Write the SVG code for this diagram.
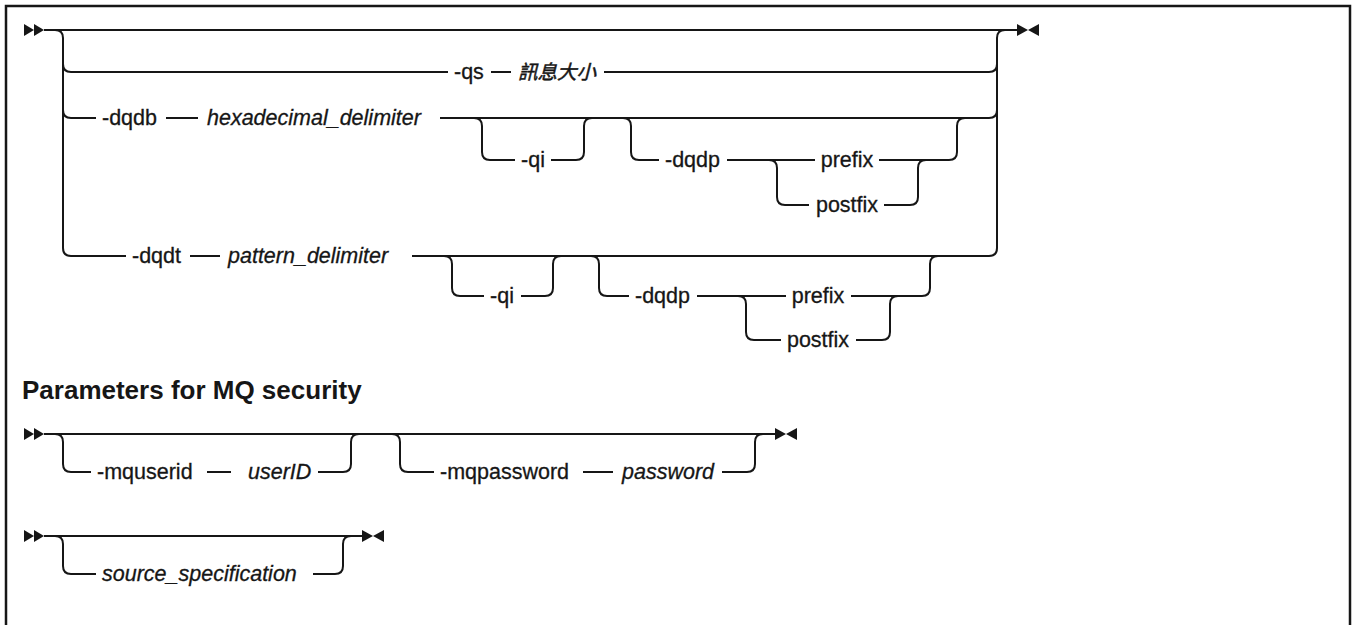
<svg xmlns="http://www.w3.org/2000/svg" xmlns:xlink="http://www.w3.org/1999/xlink" width="1354" height="625" viewBox="0 0 1354 625">
<style>
  text { font-family: "Liberation Sans", "Noto Sans CJK TC", sans-serif; font-size: 21.5px; fill: #161616; stroke: #161616; stroke-width: 0.3px; }
  .var { font-style: italic; }
  .cjk { font-family: "Noto Sans CJK TC", sans-serif; font-size: 19.5px; font-style: italic; stroke-width: 0.5px; }
  .head { font-weight: bold; font-size: 26px; stroke-width: 0; }
  .ln { fill: none; stroke: #161616; stroke-width: 2; }
  .frame { fill: none; stroke: #161616; stroke-width: 2.5; }
  .mk { fill: #161616; }
</style>
<defs>
  <g id="startMark"><polygon class="mk" points="0,-6 10,0 0,6"/><polygon class="mk" points="10,-6 20,0 10,6"/></g>
  <g id="endMark"><polygon class="mk" points="0,-6 11,0 0,6"/><polygon class="mk" points="22,-6 11,0 22,6"/></g>
</defs>
<rect width="1354" height="625" fill="#ffffff"/>
<path class="frame" d="M6 630 V6 H1350 V630"/>

<g id="connectors">
  <!-- diagram 1 -->
  <path class="ln" d="M44 30 H1017"/>
  <path class="ln" d="M55 30 Q63 30 63 38 V248 Q63 256 71 256"/>
  <path class="ln" d="M63 64 Q63 72 71 72"/>
  <path class="ln" d="M63 110 Q63 118 71 118"/>
  <path class="ln" d="M1005 30 Q997 30 997 38 V248 Q997 256 989 256"/>
  <path class="ln" d="M989 72 Q997 72 997 64"/>
  <path class="ln" d="M989 118 Q997 118 997 110"/>
  <path class="ln" d="M71 72 H448 M491 72 H511 M604 72 H989"/>
  <path class="ln" d="M71 118 H96 M166 118 H198 M440 118 H989"/>
  <path class="ln" d="M474 118 Q482 118 482 126 V152 Q482 160 490 160 H515 M551 160 H576 Q584 160 584 152 V126 Q584 118 592 118"/>
  <path class="ln" d="M623 118 Q631 118 631 126 V152 Q631 160 639 160 H659 M727 160 H815 M879 160 H949 Q957 160 957 152 V126 Q957 118 965 118"/>
  <path class="ln" d="M769 160 Q777 160 777 168 V197 Q777 205 785 205 H809 M884 205 H910 Q918 205 918 197 V168 Q918 160 926 160"/>
  <path class="ln" d="M71 256 H126 M190 256 H220 M412 256 H989"/>
  <path class="ln" d="M444 256 Q452 256 452 264 V288 Q452 296 460 296 H484 M521 296 H545 Q553 296 553 288 V264 Q553 256 561 256"/>
  <path class="ln" d="M591 256 Q599 256 599 264 V288 Q599 296 607 296 H629 M697 296 H786 M851 296 H922 Q930 296 930 288 V264 Q930 256 938 256"/>
  <path class="ln" d="M738 296 Q746 296 746 304 V332 Q746 340 754 340 H781 M856 340 H882 Q890 340 890 332 V304 Q890 296 898 296"/>
  <use xlink:href="#startMark" href="#startMark" x="24" y="30"/>
  <use xlink:href="#endMark" href="#endMark" x="1017" y="30"/>
  <!-- diagram 2 -->
  <path class="ln" d="M44 434 H775"/>
  <path class="ln" d="M55 434 Q63 434 63 442 V464 Q63 472 71 472 H91 M207 472 H231 M318 472 H343 Q351 472 351 464 V442 Q351 434 359 434"/>
  <path class="ln" d="M392 434 Q400 434 400 442 V464 Q400 472 408 472 H434 M583 472 H613 M722 472 H747 Q755 472 755 464 V442 Q755 434 763 434"/>
  <use xlink:href="#startMark" href="#startMark" x="24" y="434"/>
  <use xlink:href="#endMark" href="#endMark" x="775" y="434"/>
  <!-- diagram 3 -->
  <path class="ln" d="M44 536 H362"/>
  <path class="ln" d="M55 536 Q63 536 63 544 V566 Q63 574 71 574 H96 M313 574 H335 Q343 574 343 566 V544 Q343 536 351 536"/>
  <use xlink:href="#startMark" href="#startMark" x="24" y="536"/>
  <use xlink:href="#endMark" href="#endMark" x="362" y="536"/>
</g>

<g id="n-qs"><text x="454" y="79">-qs</text></g>
<g id="n-msgsize"><text class="cjk" x="518" y="79">訊息大小</text></g>
<g id="n-dqdb"><text x="102" y="125">-dqdb</text></g>
<g id="n-hexdelim"><text class="var" x="207" y="125">hexadecimal_delimiter</text></g>
<g id="n-qi1"><text x="533" y="167" text-anchor="middle">-qi</text></g>
<g id="n-dqdp1"><text x="665" y="167">-dqdp</text></g>
<g id="n-prefix1"><text x="847" y="167" text-anchor="middle">prefix</text></g>
<g id="n-postfix1"><text x="847" y="212" text-anchor="middle">postfix</text></g>
<g id="n-dqdt"><text x="132" y="263">-dqdt</text></g>
<g id="n-patdelim"><text class="var" x="228" y="263">pattern_delimiter</text></g>
<g id="n-qi2"><text x="502" y="303" text-anchor="middle">-qi</text></g>
<g id="n-dqdp2"><text x="635" y="303">-dqdp</text></g>
<g id="n-prefix2"><text x="818" y="303" text-anchor="middle">prefix</text></g>
<g id="n-postfix2"><text x="818" y="347" text-anchor="middle">postfix</text></g>
<g id="n-heading"><text class="head" x="22" y="399">Parameters for MQ security</text></g>
<g id="n-mquserid"><text x="97" y="479">-mquserid</text></g>
<g id="n-userid"><text class="var" x="248" y="479">userID</text></g>
<g id="n-mqpassword"><text x="440" y="479">-mqpassword</text></g>
<g id="n-password"><text class="var" x="622" y="479">password</text></g>
<g id="n-source"><text class="var" x="102" y="581">source_specification</text></g>
</svg>
